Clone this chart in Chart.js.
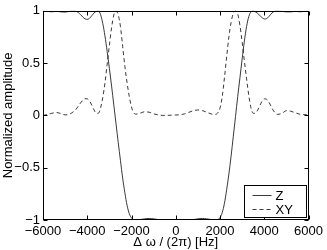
<!DOCTYPE html>
<html><head><meta charset="utf-8">
<script src="https://cdn.jsdelivr.net/npm/chart.js@4"></script>
<style>html,body{margin:0;padding:0;background:#fff;}#wrap{width:327px;height:250px;}</style>
</head><body><div id="wrap"><canvas id="c" width="327" height="250"></canvas></div>
<script>
const freqHz = [
  -6000,-5800,-5600,-5400,-5200,-5000,-4800,
  -4600,-4500,-4400,-4300,-4200,-4100,-4000,-3900,-3800,-3700,-3600,-3500,-3400,-3300,-3200,-3100,-3000,-2900,-2800,-2700,-2600,-2500,-2400,-2300,-2200,-2100,-2000,-1900,-1800,
  -1600,-1400,-1200,-1000,-800,-600,-400,-200,0,200,400,600,800,1000,1200,1400,1600,
  1800,1900,2000,2100,2200,2300,2400,2500,2600,2700,2800,2900,3000,3100,3200,3300,3400,3500,3600,3700,3800,3900,4000,4100,4200,4300,4400,4500,4600,
  4800,5000,5200,5400,5600,5800,6000
];
const zAmplitude = [
  0.998,0.994,0.991,0.995,0.99,0.988,0.995,
  1.0,0.995,0.983,0.963,0.94,0.923,0.918,0.928,0.952,0.978,0.995,0.999,0.965,0.88,0.76,0.61,0.45,0.28,0.1,-0.08,-0.26,-0.43,-0.6,-0.74,-0.86,-0.94,-0.98,-0.997,-1.0,
  -0.996,-0.989,-0.985,-0.989,-0.996,-1.0,-1.0,-0.998,-0.997,-0.998,-1.0,-1.0,-0.996,-0.989,-0.985,-0.989,-0.996,
  -1.0,-0.996,-0.978,-0.93,-0.84,-0.71,-0.56,-0.39,-0.2,-0.01,0.18,0.36,0.54,0.71,0.85,0.945,0.99,1.0,0.99,0.975,0.955,0.935,0.922,0.925,0.943,0.968,0.988,0.998,1.0,
  0.995,0.99,0.99,0.995,0.991,0.994,0.998
];
const xyAmplitude = [
  0.0,0.008,0.02,0.028,0.018,0.005,0.012,
  0.04,0.06,0.09,0.12,0.145,0.16,0.158,0.14,0.1,0.055,0.022,0.02,0.07,0.17,0.31,0.49,0.67,0.84,0.96,1.0,0.96,0.85,0.66,0.47,0.31,0.18,0.08,0.025,0.012,
  0.022,0.035,0.03,0.015,0.005,0.0,0.0,0.002,0.004,0.006,0.015,0.03,0.045,0.052,0.046,0.03,0.014,
  0.01,0.025,0.07,0.18,0.36,0.56,0.75,0.89,0.975,1.0,0.97,0.86,0.7,0.52,0.35,0.19,0.07,0.02,0.022,0.05,0.095,0.135,0.158,0.155,0.13,0.09,0.05,0.022,0.01,
  0.02,0.045,0.04,0.025,0.012,0.008,0.004
];
const seriesLabels = ['Z', 'XY'];
const xTickValues = [-6000,-4000,-2000,0,2000,4000,6000];
const yTickValues = [-1,-0.5,0,0.5,1];
const xTitle = 'Δ ω / (2π) [Hz]';
const yTitle = 'Normalized amplitude';

const FONT = '"Liberation Sans", Arial, Helvetica, sans-serif';
const fmt = v => String(v).replace('-', '\u2212');

const framePlugin = {
  id: 'frame',
  afterDatasetsDraw(chart) {
    const {ctx, chartArea: a, scales: {x, y}} = chart;
    ctx.save();
    ctx.strokeStyle = '#000';
    ctx.lineWidth = 1;
    const L = Math.round(a.left) + 0.5, R = Math.round(a.right) - 0.5;
    const T = Math.round(a.top) + 0.5, B = Math.round(a.bottom) - 0.5;
    ctx.strokeRect(L, T, R - L, B - T);
    const tl = 4;
    ctx.beginPath();
    x.ticks.forEach(t => {
      const px = Math.round(x.getPixelForValue(t.value)) + 0.5;
      ctx.moveTo(px, B); ctx.lineTo(px, B - tl);
      ctx.moveTo(px, T); ctx.lineTo(px, T + tl);
    });
    y.ticks.forEach(t => {
      const py = Math.round(y.getPixelForValue(t.value)) + 0.5;
      ctx.moveTo(L, py); ctx.lineTo(L + tl, py);
      ctx.moveTo(R, py); ctx.lineTo(R - tl, py);
    });
    ctx.stroke();

    // legend box
    const bw = 62, bh = 32;
    const bx = Math.round(a.right) - 3 - bw + 0.5, by = Math.round(a.bottom) - 3 - bh + 0.5;
    ctx.fillStyle = '#fff';
    ctx.fillRect(bx, by, bw, bh);
    ctx.strokeRect(bx, by, bw, bh);
    ctx.font = '13px ' + FONT;
    ctx.textBaseline = 'middle';
    ctx.textAlign = 'left';
    chart.data.datasets.forEach((ds, i) => {
      const ly = Math.round(by + 9 + i * 14) + 0.5;
      ctx.save();
      ctx.strokeStyle = ds.borderColor;
      ctx.lineWidth = ds.borderWidth;
      ctx.setLineDash(ds.borderDash || []);
      ctx.beginPath();
      ctx.moveTo(bx + 8, ly); ctx.lineTo(bx + 27, ly);
      ctx.stroke();
      ctx.restore();
      ctx.fillStyle = '#000';
      ctx.fillText(ds.label, bx + 31, ly + 0.5);
    });
    ctx.restore();
  }
};

new Chart(document.getElementById('c'), {
  type: 'line',
  data: {
    datasets: [
      {
        label: seriesLabels[0],
        data: freqHz.map((f, i) => ({x: f, y: zAmplitude[i]})),
        borderColor: '#222', borderWidth: 0.9, pointRadius: 0,
        cubicInterpolationMode: 'monotone', fill: false
      },
      {
        label: seriesLabels[1],
        data: freqHz.map((f, i) => ({x: f, y: xyAmplitude[i]})),
        borderColor: '#222', borderWidth: 0.9, borderDash: [4, 3], pointRadius: 0,
        cubicInterpolationMode: 'monotone', fill: false
      }
    ]
  },
  options: {
    responsive: false,
    animation: false,
    devicePixelRatio: 1,
    layout: {padding: {top: 10, right: 17, left: 0, bottom: 0}},
    plugins: {legend: {display: false}, tooltip: {enabled: false}},
    scales: {
      x: {
        type: 'linear', min: -6000, max: 6000,
        afterBuildTicks: s => { s.ticks = xTickValues.map(v => ({value: v})); },
        afterFit: s => { s.height = 30; },
        grid: {display: false, drawTicks: false}, border: {display: false},
        ticks: {color: '#000', font: {family: FONT, size: 13}, padding: 4, maxRotation: 0, autoSkip: false, callback: v => fmt(v)},
        title: {display: true, text: xTitle, color: '#000', font: {family: FONT, size: 13}, padding: {top: 0, bottom: 0}}
      },
      y: {
        type: 'linear', min: -1, max: 1,
        afterBuildTicks: s => { s.ticks = yTickValues.map(v => ({value: v})); },
        afterFit: s => { s.width = 43; },
        grid: {display: false, drawTicks: false}, border: {display: false},
        ticks: {color: '#000', font: {family: FONT, size: 13}, padding: 3, autoSkip: false, callback: v => fmt(v)},
        title: {display: true, text: yTitle, color: '#000', font: {family: FONT, size: 13}, padding: {top: 1, bottom: 0}}
      }
    }
  },
  plugins: [framePlugin]
});
</script>
</body></html>
